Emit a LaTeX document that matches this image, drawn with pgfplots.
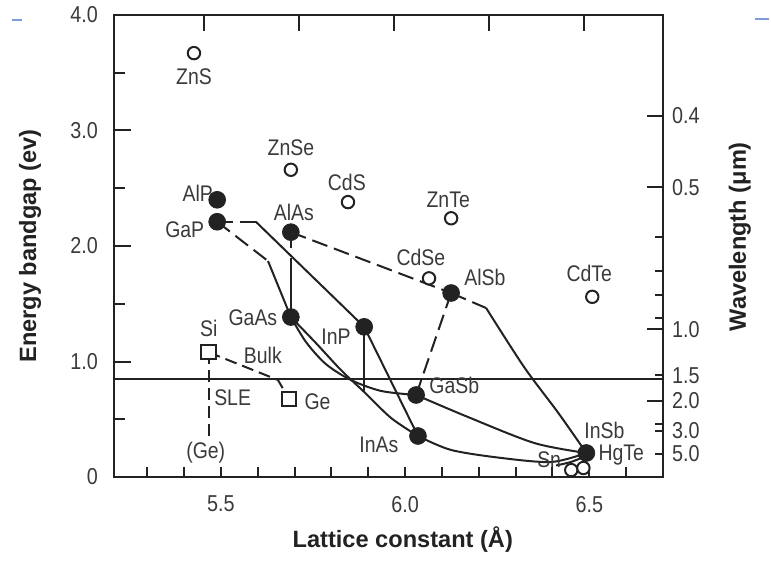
\documentclass[border=0pt]{standalone}
\usepackage{fontspec}
\setmainfont{Liberation Sans}[FakeStretch=0.86]
\newfontfamily\titlefont{Liberation Sans}
\usepackage{pgfplots}
\pgfplotsset{compat=1.18}

\definecolor{ink}{HTML}{222222}
\definecolor{txt}{HTML}{3A3A3A}
\definecolor{blip}{HTML}{7C9BD8}

\tikzset{
  lbl/.style={txt, font=\fontsize{11.3}{13}\selectfont, inner sep=0pt},
  ttl/.style={font=\titlefont\bfseries\fontsize{11.8}{14}\selectfont, color=ink},
  solid line/.style={ink, line width=1pt},
  dash line/.style={ink, line width=1pt, dash pattern=on 8pt off 3.5pt},
}
\pgfplotsset{
  frame/.style={width=274.5pt, height=231pt, scale only axis,
    at={(0,0)}, anchor=south west,
    xmin=5.21, xmax=6.70, ymin=0, ymax=4,
    tick align=inside,
    axis line style={ink, line width=1.2pt},
    every tick/.style={ink, line width=1pt},
    ticklabel style={txt, font=\fontsize{11.5}{13}\selectfont}},
}

\begin{document}
\begin{tikzpicture}
\useasboundingbox (-57pt,-43pt) rectangle (328.5pt,238.5pt);

% bottom axis, box and data
\begin{axis}[frame, clip=false,
  xtick={5.3,5.4,5.5,5.6,5.7,5.8,5.9,6.0,6.1,6.2,6.3,6.4,6.5,6.6},
  xticklabels={,,5.5,,,,,6.0,,,,,6.5,},
  xtick pos=bottom, ytick=\empty,
  major tick length=5pt,
  xticklabel style={yshift=-6pt},
  xlabel={Lattice constant (Å)},
  xlabel style={ttl, at={(axis description cs:0.526,-0.136)}, anchor=center},
]
% reference line
\addplot[ink, line width=0.7pt] coordinates {(5.21,0.848)(6.70,0.848)};

% GaP - InP
\addplot[dash line] coordinates {(5.49,2.21)(5.595,2.21)};
\addplot[solid line] coordinates {(5.595,2.21)(5.889,1.30)};
% GaP - GaAs
\addplot[dash line] coordinates {(5.49,2.21)(5.628,1.87)};
\addplot[solid line] coordinates {(5.628,1.87)(5.69,1.385)};
% AlAs - GaAs
\addplot[dash line] coordinates {(5.69,2.12)(5.69,1.93)};
\addplot[solid line] coordinates {(5.69,1.90)(5.69,1.385)};
% AlAs - AlSb
\addplot[dash line] coordinates {(5.69,2.12)(6.125,1.593)};
% AlSb - GaSb
\addplot[dash line] coordinates {(6.125,1.593)(6.03,0.71)};
% AlSb - InSb
\addplot[dash line] coordinates {(6.125,1.593)(6.22,1.463)};
\addplot[solid line, smooth] coordinates {(6.22,1.463)(6.323,0.952)(6.416,0.554)(6.492,0.208)};
% InP - InAs and lattice matched line
\addplot[solid line] coordinates {(5.889,1.30)(5.889,0.736)};
\addplot[solid line] coordinates {(5.889,1.30)(6.035,0.355)};
% GaAs - InAs
\addplot[solid line, smooth] coordinates {(5.69,1.385)(5.758,1.160)(5.826,0.926)(5.889,0.736)(5.962,0.511)(6.035,0.355)};
% GaAs - GaSb
\addplot[solid line, smooth] coordinates {(5.69,1.385)(5.731,1.169)(5.785,0.978)(5.853,0.840)(5.935,0.745)(6.030,0.710)};
% GaSb - InSb
\addplot[solid line, smooth] coordinates {(6.030,0.710)(6.171,0.519)(6.351,0.294)(6.492,0.208)};
% InAs - InSb
\addplot[solid line, smooth] coordinates {(6.035,0.355)(6.125,0.234)(6.261,0.165)(6.397,0.130)(6.492,0.208)};
% Sn - InSb
\addplot[solid line, smooth] coordinates {(6.41,0.10)(6.45,0.13)(6.49,0.18)};
% Si - Ge
\addplot[ink, line width=1pt, dash pattern=on 6pt off 3pt] coordinates {(5.467,1.08)(5.655,0.84)(5.685,0.675)};
\addplot[ink, line width=1pt, dash pattern=on 6pt off 3pt] coordinates {(5.467,1.08)(5.467,0.346)};

% III-V compounds
\addplot[only marks, mark=*, mark size=4.2pt, mark options={fill=ink, draw=ink}] coordinates {
  (5.49,2.40) (5.49,2.21) (5.69,2.12) (5.69,1.385) (5.889,1.30)
  (6.035,0.355) (6.030,0.71) (6.125,1.593) (6.492,0.208)};
% II-VI compounds
\addplot[only marks, mark=*, mark size=3.1pt, mark options={fill=white, draw=ink, line width=1pt}] coordinates {
  (5.427,3.67) (5.69,2.66) (5.845,2.38) (6.125,2.24) (6.065,1.72)
  (6.508,1.56) (6.451,0.06) (6.484,0.078)};
% group IV
\addplot[only marks, mark=square*, mark size=3.6pt, mark options={fill=white, draw=ink, line width=1pt}] coordinates {
  (5.467,1.08) (5.685,0.675)};

\node[lbl] at (axis cs:5.427,3.463) {ZnS};
\node[lbl] at (axis cs:5.69,2.848) {ZnSe};
\node[lbl] at (axis cs:5.842,2.554) {CdS};
\node[lbl] at (axis cs:6.117,2.398) {ZnTe};
\node[lbl] at (axis cs:6.043,1.905) {CdSe};
\node[lbl] at (axis cs:6.50,1.766) {CdTe};
\node[lbl] at (axis cs:5.4375,2.459) {AlP};
\node[lbl] at (axis cs:5.402,2.139) {GaP};
\node[lbl] at (axis cs:5.698,2.294) {AlAs};
\node[lbl] at (axis cs:5.587,1.377) {GaAs};
\node[lbl] at (axis cs:5.8125,1.212) {InP};
\node[lbl] at (axis cs:5.929,0.277) {InAs};
\node[lbl, anchor=west] at (axis cs:6.065,0.797) {GaSb};
\node[lbl, anchor=west] at (axis cs:6.160,1.73) {AlSb};
\node[lbl] at (axis cs:6.541,0.407) {InSb};
\node[lbl, anchor=west] at (axis cs:6.524,0.19) {HgTe};
\node[lbl] at (axis cs:6.391,0.147) {Sn};
\node[lbl] at (axis cs:5.467,1.29) {Si};
\node[lbl] at (axis cs:5.614,1.056) {Bulk};
\node[lbl, anchor=west] at (axis cs:5.481,0.684) {SLE};
\node[lbl, anchor=west] at (axis cs:5.726,0.65) {Ge};
\node[lbl] at (axis cs:5.459,0.208) {(Ge)};
\end{axis}

% left energy axis
\begin{axis}[frame,
  axis x line=none, axis y line*=left,
  ytick={0,1,2,3,4}, yticklabels={0,1.0,2.0,3.0,4.0},
  minor ytick={0.5,1.5,2.5,3.5},
  major tick length=8.5pt, minor tick length=5.5pt,
  yticklabel style={xshift=-4.5pt},
  ylabel={Energy bandgap (ev)},
  ylabel style={ttl, at={(axis description cs:-0.153,0.5)}, anchor=center},
]
\end{axis}

% top ticks and long wavelength ticks
\begin{axis}[frame,
  axis x line*=top, axis y line*=right,
  xtick={5.454,5.712,5.970,6.228,6.486}, xticklabels={},
  ytick={0.66,1.28,2.51,3.126}, yticklabels={2.0,1.0,0.5,0.4},
  major tick length=8pt,
  yticklabel style={xshift=1pt},
  ylabel={Wavelength (μm)},
  ylabel style={ttl, at={(axis description cs:1.140,0.52)}, anchor=center},
]
\end{axis}

% short wavelength ticks
\begin{axis}[frame,
  axis x line=none, axis y line*=right,
  ytick={0.20,0.40,0.46,0.88,1.38,1.58,1.78,2.08},
  yticklabels={5.0,3.0,,1.5,,,,},
  major tick length=4pt,
  yticklabel style={xshift=1pt},
]
\end{axis}

\draw[blip, line width=1.2pt] (-51pt,228.5pt) -- (-46pt,228.5pt);
\draw[blip, line width=1.2pt] (320.5pt,229pt) -- (327.5pt,229pt);
\end{tikzpicture}
\end{document}
